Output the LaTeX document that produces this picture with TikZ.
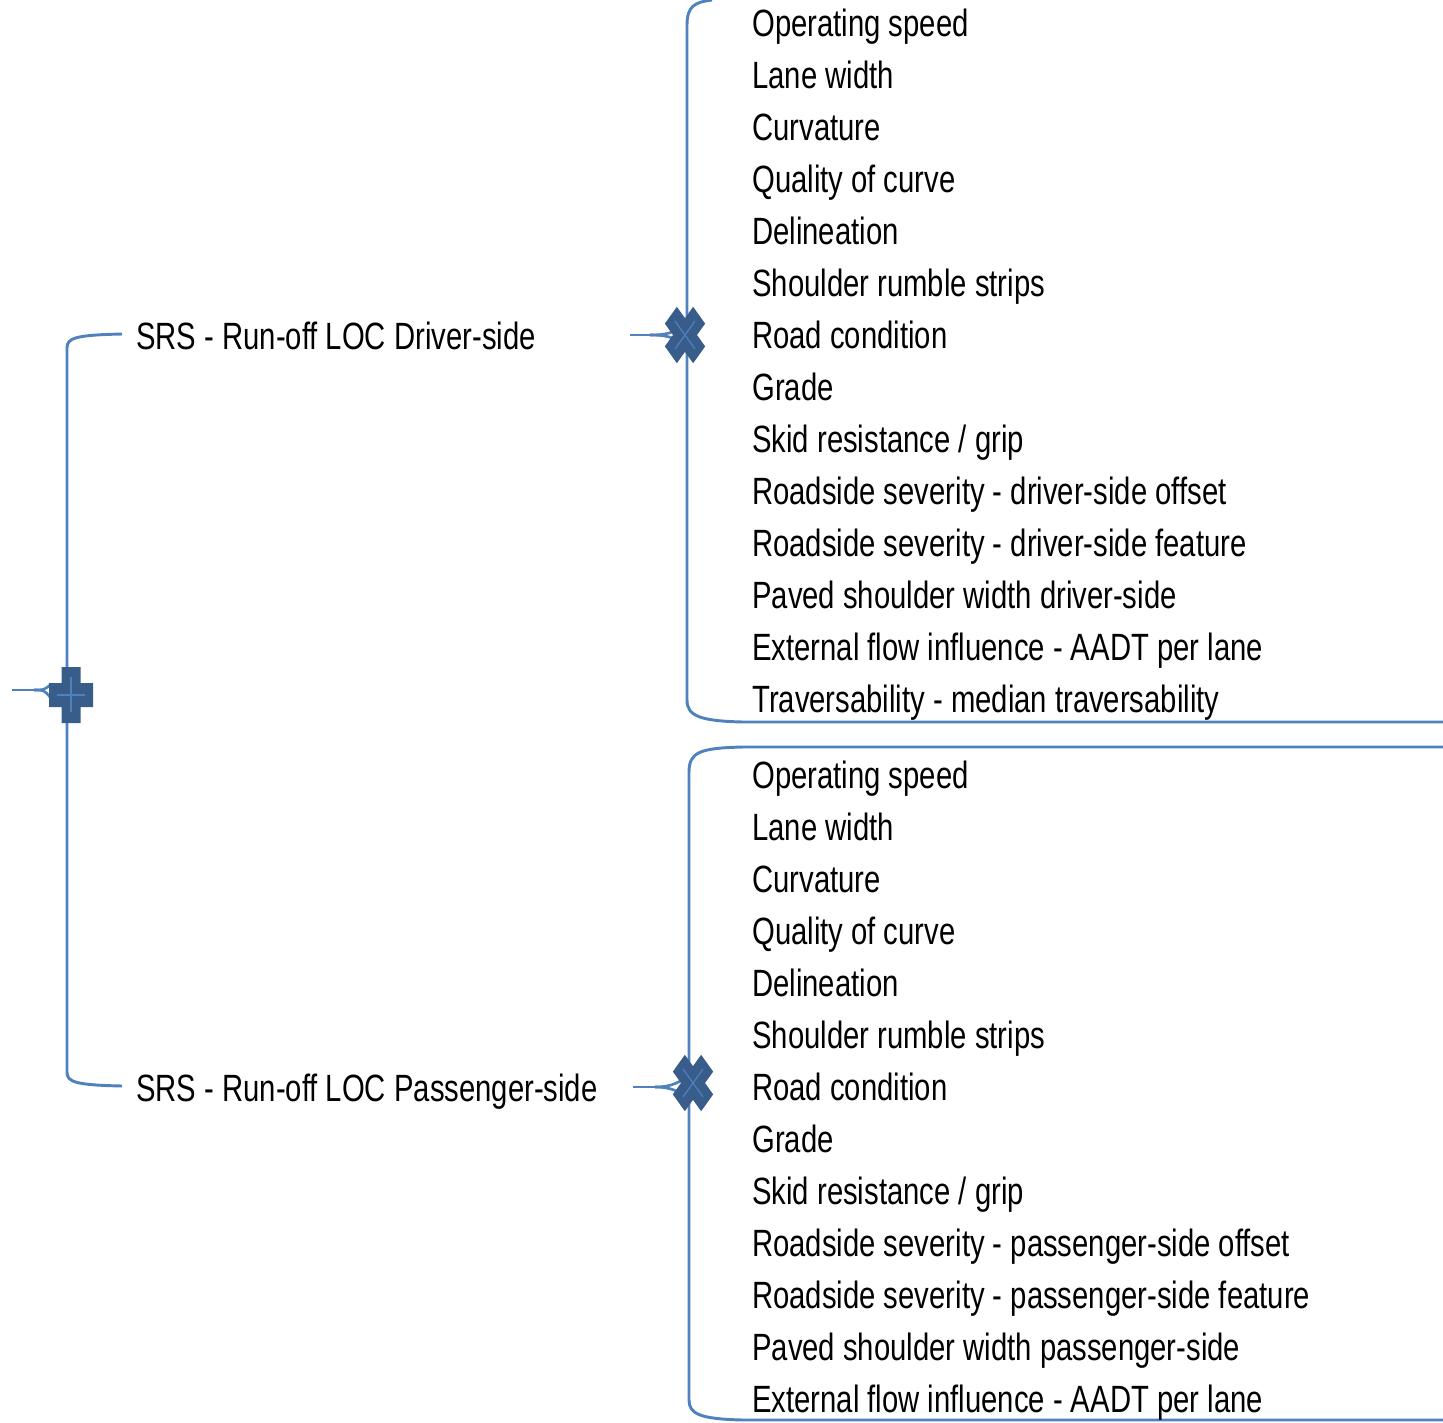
\documentclass[tikz,border=0pt]{standalone}
\usepackage{fontspec}
\setmainfont[FakeStretch=0.77]{Liberation Sans}
\definecolor{linkblue}{HTML}{4F81BD}
\definecolor{markblue}{HTML}{385D8A}

\tikzset{
  link/.style={draw=linkblue,line width=2.2pt},
  fork/.style={draw=linkblue,line width=2pt},
  item/.style={anchor=base west,inner sep=0pt,font=\fontsize{28.5}{34}\selectfont},
  plusmark/.pic={
    \fill[markblue] (-9.5,-28) -- (9.5,-28) -- (9.5,-12) -- (22,-12) -- (22,12) -- (9.5,12)
      -- (9.5,28) -- (-9.5,28) -- (-9.5,12) -- (-22,12) -- (-22,-12) -- (-9.5,-12) -- cycle;
    \draw[linkblue,line width=2.2pt] (0,-18) -- (0,17) (-14,0) -- (14,0);
  },
  crossmark/.pic={
    \begin{scope}[yscale=1.4,rotate=45]
      \fill[markblue] (-8.5,-20) -- (8.5,-20) -- (8.5,-8.5) -- (20,-8.5) -- (20,8.5) -- (8.5,8.5)
        -- (8.5,20) -- (-8.5,20) -- (-8.5,8.5) -- (-20,8.5) -- (-20,-8.5) -- (-8.5,-8.5) -- cycle;
    \end{scope}
    \draw[linkblue,line width=0.9pt] (-10,-14) -- (10,14) (-10,14) -- (10,-14);
  }
}

\begin{document}
\begin{tikzpicture}[x=0.75pt,y=-0.75pt]
\useasboundingbox (0,0) rectangle (1443,1422);

% root and branches
\coordinate (root) at (71,695);
\coordinate (rin) at (12,690);
\coordinate (dtop) at (122,334);
\coordinate (pbot) at (122,1086);
\node[item] (drv) at (136,349) {SRS - Run-off LOC Driver-side};
\node[item] (pas) at (136,1101) {SRS - Run-off LOC Passenger-side};
\coordinate (dout) at (630,335);
\coordinate (pout) at (633,1087);
\coordinate (xd) at (685,335);
\coordinate (xp) at (693,1083);

\draw[link] (dtop) .. controls (75,335) and (67,338) .. (67,348) -- (67,1072)
  .. controls (67,1082) and (75,1085) .. (pbot);
\draw[link] (rin) -- (38,690);
\draw[fork] (34,690) .. controls (44,690) .. (50,685);
\draw[fork] (34,690) .. controls (44,690) .. (50,697);

% driver-side list
\draw[link] (712,0) .. controls (695,2) and (687,6) .. (687,25) -- (687,700)
  .. controls (687,716) and (700,721) .. (743,722) -- (1443,722);
\foreach \t [count=\i] in {Operating speed, Lane width, Curvature, Quality of curve,
  Delineation, Shoulder rumble strips, Road condition, Grade, Skid resistance / grip,
  Roadside severity - driver-side offset, Roadside severity - driver-side feature,
  Paved shoulder width driver-side, External flow influence - AADT per lane,
  Traversability - median traversability}
  \node[item] (d\i) at (752,{23+52*(\i-1)+13.5}) {\t};

% passenger-side list
\draw[link] (1443,747) -- (743,747) .. controls (700,748) and (689,752) .. (689,772)
  -- (689,1400) .. controls (689,1414) and (700,1419) .. (743,1420) -- (1443,1420);
\foreach \t [count=\i] in {Operating speed, Lane width, Curvature, Quality of curve,
  Delineation, Shoulder rumble strips, Road condition, Grade, Skid resistance / grip,
  Roadside severity - passenger-side offset, Roadside severity - passenger-side feature,
  Paved shoulder width passenger-side, External flow influence - AADT per lane}
  \node[item] (p\i) at (752,{775+52*(\i-1)+13.5}) {\t};

% forks into the marks
\draw[link] (dout) -- (655,335);
\draw[fork] (650,335) .. controls (672,335) and (680,330) .. (687,320);
\draw[fork] (650,335) .. controls (672,335) and (680,340) .. (687,350);
\draw[link] (pout) -- (660,1087);
\draw[fork] (655,1087) .. controls (672,1087) and (680,1082) .. (689,1075);
\draw[fork] (655,1087) .. controls (672,1087) and (680,1092) .. (689,1099);

\pic at (root) {plusmark};
\pic at (xd) {crossmark};
\pic at (xp) {crossmark};
\end{tikzpicture}
\end{document}
